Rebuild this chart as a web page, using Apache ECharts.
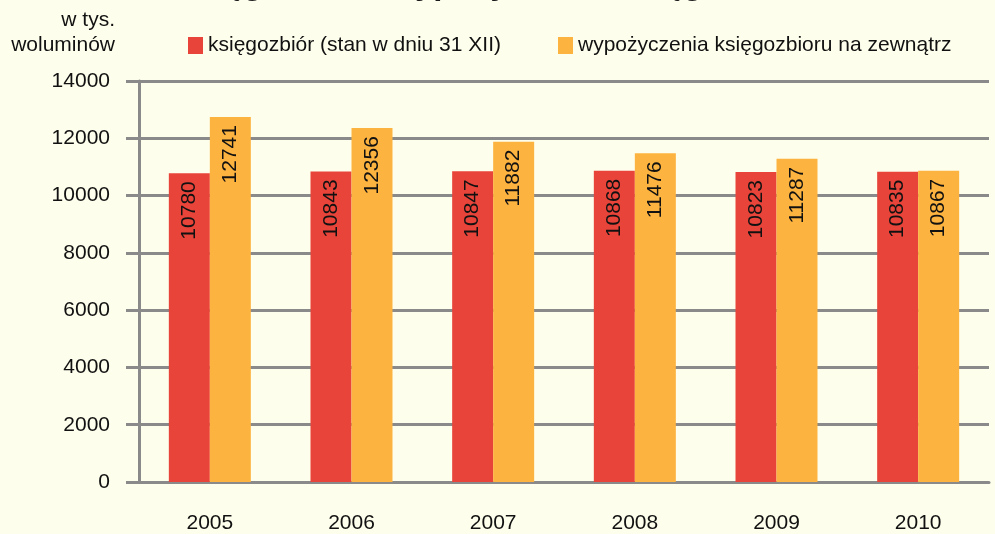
<!DOCTYPE html>
<html>
<head>
<meta charset="utf-8">
<script src="https://cdn.jsdelivr.net/npm/echarts@6/dist/echarts.min.js"></script>
<style>
  html, body { margin: 0; padding: 0; background: #fefeec; }
  #chart { width: 995px; height: 534px; }
</style>
</head>
<body>
<div id="chart"></div>
<script>
// dane w tys. woluminów
const years = ['2005', '2006', '2007', '2008', '2009', '2010']
const ksiegozbior = [10780, 10843, 10847, 10868, 10823, 10835]
const wypozyczenia = [12741, 12356, 11882, 11476, 11287, 10867]
const seriesNames = ['księgozbiór (stan w dniu 31 XII)', 'wypożyczenia księgozbioru na zewnątrz']

const FONT = '"Liberation Sans", Arial, sans-serif'
const GRAY = '#8a8a8a'
const FS = 21

const chart = echarts.init(document.getElementById('chart'), null, { renderer: 'canvas' })

const barLabel = {
  show: true,
  position: 'insideTop',
  rotate: 90,
  align: 'right',
  verticalAlign: 'middle',
  distance: 8,
  color: '#111',
  fontSize: FS,
  fontFamily: FONT,
}

const option = {
  backgroundColor: '#fefeec',
  animation: false,
  title: {
    text: 'Księgozbiór i wypożyczenia księgozbioru',
    left: 'center',
    top: -37,
    textStyle: { fontSize: 33, fontWeight: 'bold', color: '#1a1a1a', fontFamily: FONT },
  },
  graphic: [
    {
      type: 'text',
      right: 880,
      top: 10,
      style: { text: 'w tys.', fontSize: FS, fontFamily: FONT, fill: '#111' },
    },
    {
      type: 'text',
      right: 880,
      top: 35,
      style: { text: 'woluminów', fontSize: FS, fontFamily: FONT, fill: '#111' },
    },
  ],
  legend: {
    left: 183,
    top: 30,
    itemWidth: 15,
    itemHeight: 17,
    itemGap: 57,
    icon: 'rect',
    textStyle: { fontSize: FS, fontFamily: FONT, color: '#111', padding: [0, 0, 0, 0] },
    data: seriesNames,
  },
  grid: { left: 139, right: 6, top: 81, bottom: 51 },
  xAxis: {
    type: 'category',
    data: years,
    axisLine: { lineStyle: { color: GRAY, width: 3 } },
    axisTick: { length: 10, lineStyle: { color: GRAY, width: 3 } },
    axisLabel: { margin: 31, fontSize: FS, fontFamily: FONT, color: '#111' },
  },
  yAxis: {
    type: 'value',
    min: 0,
    max: 14000,
    interval: 2000,
    axisLine: { show: true, lineStyle: { color: GRAY, width: 3 } },
    axisTick: { show: true, length: 13, lineStyle: { color: GRAY, width: 3 } },
    splitLine: { lineStyle: { color: GRAY, width: 3 } },
    axisLabel: {
      margin: 29,
      fontSize: FS,
      fontFamily: FONT,
      color: '#111',
      formatter: (v) => String(v),
    },
  },
  series: [
    {
      name: seriesNames[0],
      type: 'bar',
      data: ksiegozbior,
      barWidth: 41,
      barGap: '0%',
      itemStyle: { color: '#e8443a' },
      label: barLabel,
    },
    {
      name: seriesNames[1],
      type: 'bar',
      data: wypozyczenia,
      barWidth: 41,
      barGap: '0%',
      itemStyle: { color: '#fdb33f' },
      label: barLabel,
    },
  ],
}

chart.setOption(option)
</script>
</body>
</html>
